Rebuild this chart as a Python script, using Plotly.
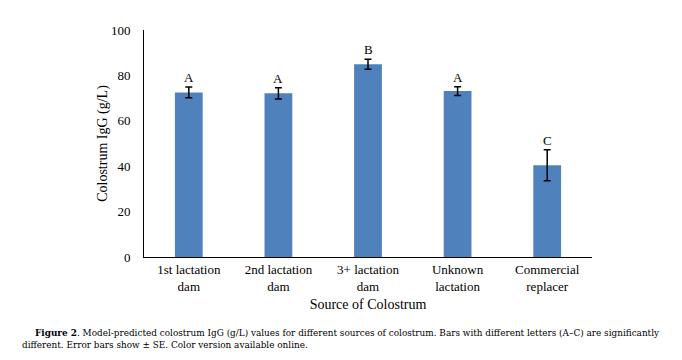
import plotly.graph_objects as go

categories = ["1st lactation<br>dam", "2nd lactation<br>dam", "3+ lactation<br>dam",
              "Unknown<br>lactation", "Commercial<br>replacer"]
igg_values = [72.5, 72.1, 84.9, 73.1, 40.4]
igg_se = [2.4, 2.5, 2.2, 1.9, 6.8]
letters = ["A", "A", "B", "A", "C"]
y_ticks = [0, 20, 40, 60, 80, 100]

FONT = "Liberation Serif"
CAP_FONT = "DejaVu Serif"
OFF = 8  # page body margin offset
W, H = 682 - OFF, 360 - OFF
ML, MR, MT, MB = 144 - OFF, 90, 30 - OFF, 103
PW, PH = W - ML - MR, H - MT - MB

fig = go.Figure()
fig.add_trace(go.Bar(
    x=categories, y=igg_values,
    marker=dict(color="#4F81BD", line=dict(width=0)),
    width=0.31,
    error_y=dict(type="data", array=igg_se, visible=True,
                 color="black", thickness=1.5, width=3.5),
    showlegend=False,
))

for c, v, s, l in zip(categories, igg_values, igg_se, letters):
    fig.add_annotation(x=c, y=v + s, text=l, showarrow=False,
                       yanchor="bottom", yshift=0,
                       font=dict(family=FONT, size=13, color="black"))

def px_x(p):
    return (p - OFF - ML) / PW

def px_y(p):
    return (H - MB - (p - OFF)) / PH

fig.add_annotation(
    xref="paper", yref="paper", x=px_x(33), y=px_y(333),
    xanchor="left", yanchor="middle", showarrow=False, align="left",
    text="<b>Figure 2</b>. Model-predicted colostrum IgG (g/L) values for different sources of colostrum. Bars with different letters (A\u2013C) are significantly",
    font=dict(family=CAP_FONT, size=8.9, color="black"))
fig.add_annotation(
    xref="paper", yref="paper", x=px_x(20), y=px_y(345),
    xanchor="left", yanchor="middle", showarrow=False, align="left",
    text="different. Error bars show \u00b1 SE. Color version available online.",
    font=dict(family=CAP_FONT, size=8.9, color="black"))

fig.update_layout(
    width=W, height=H,
    margin=dict(l=ML, r=MR, t=MT, b=MB, pad=0),
    paper_bgcolor="white", plot_bgcolor="white",
    font=dict(family=FONT, size=13, color="black"),
    xaxis=dict(
        showline=True, linecolor="black", linewidth=1,
        ticks="", showgrid=False,
        tickfont=dict(family=FONT, size=13, color="black"),
        title=dict(text="Source of Colostrum", font=dict(family=FONT, size=14, color="black"), standoff=6),
    ),
    yaxis=dict(
        range=[0, 100], tickvals=y_ticks,
        showline=True, linecolor="black", linewidth=1,
        ticks="", showgrid=False, zeroline=False,
        ticklabelstandoff=10,
        tickfont=dict(family=FONT, size=13, color="black"),
        title=dict(text="Colostrum IgG (g/L)", font=dict(family=FONT, size=14, color="black"), standoff=0),
    ),
)

fig.write_html("out.html")
